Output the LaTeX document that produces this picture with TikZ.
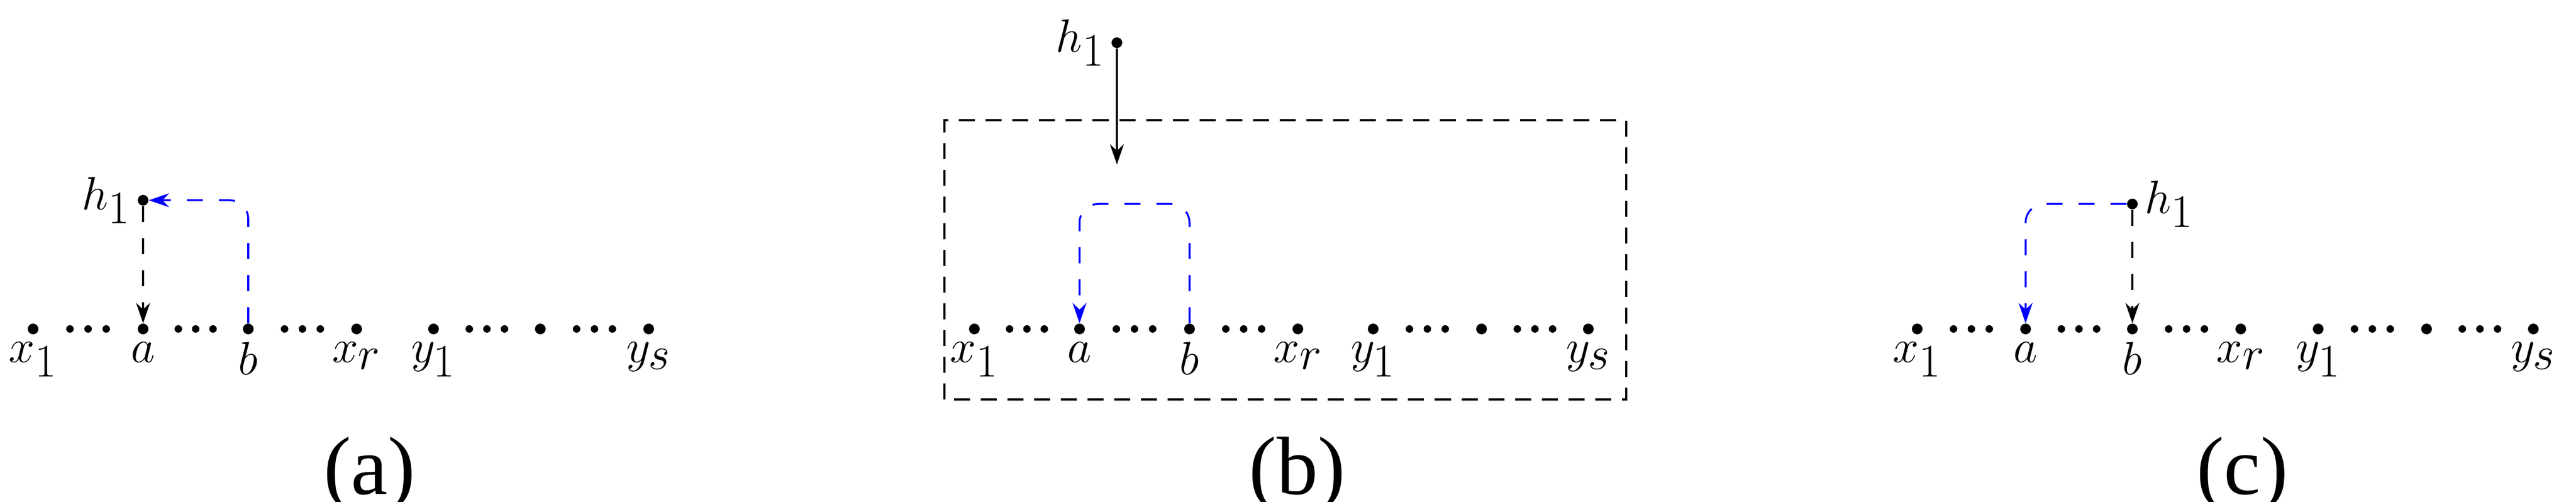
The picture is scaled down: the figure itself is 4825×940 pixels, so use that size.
\documentclass[tikz,border=0pt]{standalone}
\usepackage{fontspec}
\newfontfamily\capfont{Liberation Serif}
\usetikzlibrary{arrows.meta,calc}
\begin{document}
\begin{tikzpicture}[x=0.01cm,y=0.01cm,
  pt/.style={circle,fill=black,inner sep=0pt,minimum size=0.2cm},
  sd/.style={circle,fill=black,inner sep=0pt,minimum size=0.14cm},
  lb/.style={font=\fontsize{42}{50}\selectfont},
  cp/.style={font=\capfont\fontsize{44}{52}\selectfont},
  blk/.style={-{Stealth[length=0.38cm,width=0.26cm]},line width=1pt,dash pattern=on 0.3cm off 0.3cm},
  blu/.style={-{Stealth[length=0.38cm,width=0.26cm]},blue,line width=1pt,dash pattern=on 0.3cm off 0.3cm,rounded corners=0.35cm}]
\useasboundingbox (0,0) rectangle (4825,940);
\foreach \p/\xa/\aa/\bb/\xr/\ya/\ym/\ys in {A/62/268/465/668/812/1012/1215,B/1825/2022/2228/2431/2572/2775/2975,C/3591/3794/3994/4197/4342/4545/4745}{
  \node[pt,label={[lb,yshift=-0.02cm]below:$x_1$}] (\p x1) at (\xa,324) {};
  \node[pt,label={[lb,yshift=-0.02cm]below:$a$}] (\p a) at (\aa,324) {};
  \node[pt,label={[lb,yshift=-0.02cm]below:$b$}] (\p b) at (\bb,324) {};
  \node[pt,label={[lb,yshift=-0.02cm]below:$x_r$}] (\p xr) at (\xr,324) {};
  \node[pt,label={[lb,yshift=-0.02cm]below:$y_1$}] (\p y1) at (\ya,324) {};
  \node[pt] (\p m) at (\ym,324) {};
  \node[pt,label={[lb,yshift=-0.02cm]below:$y_s$}] (\p ys) at (\ys,324) {};
  \foreach \u/\v in {x1/a,a/b,b/xr,y1/m,m/ys}{
    \foreach \f in {0.335,0.5,0.665}{
      \node[sd] at ($(\p\u)!\f!(\p\v)$) {};}}
}
% (a)
\node[pt,label={[lb]left:$h_1$}] (Ah) at (268,565) {};
\draw[blk] (Ah) -- (Aa);
\draw[blu] (Ab) |- (Ah);
\node[cp] (la) at (692,52) {(a)};
% (b)
\node[pt,label={[lb]left:$h_1$}] (Bh) at (2092,860) {};
\coordinate (Bt) at (2092,632);
\draw[-{Stealth[length=0.38cm,width=0.26cm]},line width=1pt] (Bh) -- (Bt);
\coordinate (Bc1) at (2228,558);
\coordinate (Bc2) at (2022,558);
\draw[blu] (Bb) -- (Bc1) -- (Bc2) -- (Ba);
\draw[line width=1pt,dash pattern=on 0.3cm off 0.2cm] (1769,192) rectangle (3046,715);
\node[cp] (lb2) at (2430,52) {(b)};
% (c)
\node[pt,label={[lb]right:$h_1$}] (Ch) at (3994,558) {};
\draw[blk] (Ch) -- (Cb);
\draw[blu] (Ch) -| (Ca);
\node[cp] (lc) at (4200,52) {(c)};
\end{tikzpicture}
\end{document}
